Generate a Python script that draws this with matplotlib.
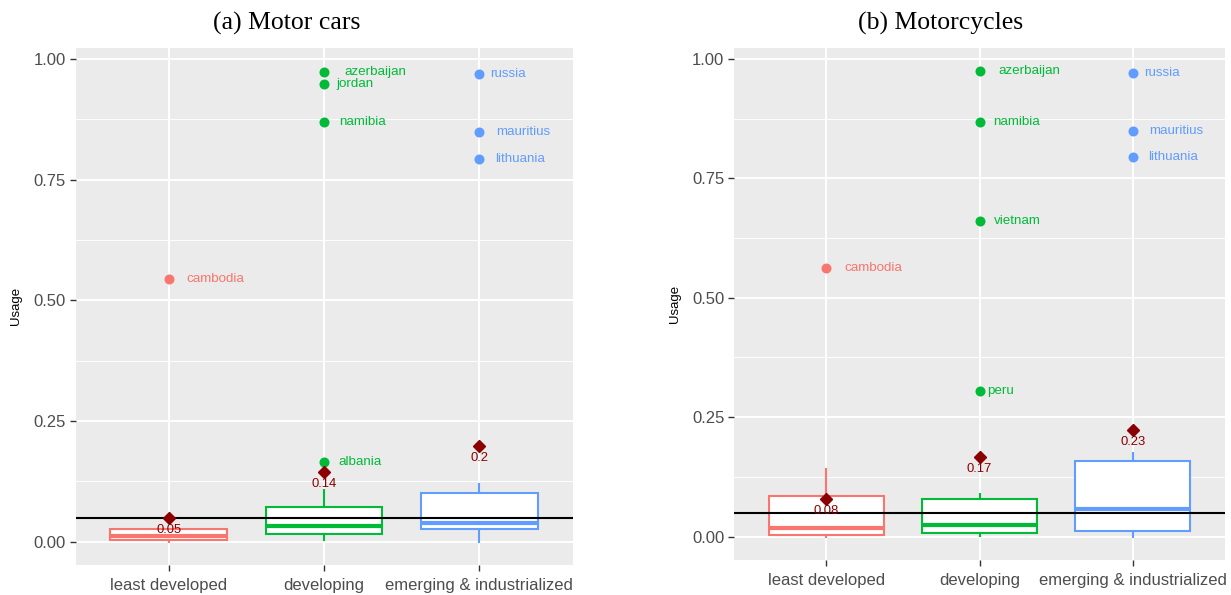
import matplotlib
matplotlib.use("Agg")
import matplotlib.pyplot as plt

plt.rcParams['font.family'] = ['Liberation Sans', 'DejaVu Sans']

# ---- datos ----
grupos = ["least developed", "developing", "emerging & industrialized"]
colores = ["#F8766D", "#00BA38", "#619CFF"]

# (a) Motor cars: q1, mediana, q3, bigote inf., bigote sup.
autos_q1 = [0.003, 0.017, 0.026]
autos_med = [0.012, 0.033, 0.039]
autos_q3 = [0.026, 0.072, 0.101]
autos_wlo = [0.000, 0.003, 0.000]
autos_whi = [0.026, 0.107, 0.119]
autos_media = [0.049, 0.144, 0.198]
autos_media_txt = ["0.05", "0.14", "0.2"]
autos_out_pais = ["cambodia", "azerbaijan", "jordan", "namibia", "albania",
                  "russia", "mauritius", "lithuania"]
autos_out_grupo = [0, 1, 1, 1, 1, 2, 2, 2]
autos_out_valor = [0.544, 0.973, 0.949, 0.870, 0.165, 0.970, 0.848, 0.792]

# (b) Motorcycles
motos_q1 = [0.004, 0.008, 0.012]
motos_med = [0.018, 0.025, 0.057]
motos_q3 = [0.086, 0.078, 0.159]
motos_wlo = [0.000, 0.002, 0.000]
motos_whi = [0.141, 0.090, 0.175]
motos_media = [0.078, 0.167, 0.224]
motos_media_txt = ["0.08", "0.17", "0.23"]
motos_out_pais = ["cambodia", "azerbaijan", "namibia", "vietnam", "peru",
                  "russia", "mauritius", "lithuania"]
motos_out_grupo = [0, 1, 1, 1, 1, 2, 2, 2]
motos_out_valor = [0.563, 0.974, 0.869, 0.661, 0.305, 0.970, 0.850, 0.794]

referencia = 0.05

# desplazamiento horizontal de cada etiqueta (px), como en el original
autos_dx = [18, 20, 12, 15, 14, 11, 17, 16]
motos_dx = [18, 19, 14, 14, 8, 11, 16, 15]

PX = 0.72  # puntos por pixel a dpi=100


def panel(ax, q1, med, q3, wlo, whi, media, media_txt,
          paises, grp, valores, dx):
    ax.set_facecolor("#EBEBEB")
    for s in ax.spines.values():
        s.set_visible(False)

    stats = [dict(q1=a, med=b, q3=c, whislo=d, whishi=e, label=g)
             for a, b, c, d, e, g in zip(q1, med, q3, wlo, whi, grupos)]
    pos = [1, 2, 3]
    bp = ax.bxp(stats, positions=pos, widths=0.75, showcaps=False,
                showfliers=False, patch_artist=True, zorder=3)
    for i, col in enumerate(colores):
        bp['boxes'][i].set(facecolor="white", edgecolor=col, linewidth=1.5)
        bp['medians'][i].set(color=col, linewidth=3.0, solid_capstyle='butt')
        for w in bp['whiskers'][2 * i:2 * i + 2]:
            w.set(color=col, linewidth=1.5)

    ax.axhline(referencia, color="black", linewidth=1.5, zorder=4)

    # valores atípicos con nombre del país
    for p, g, v, d in zip(paises, grp, valores, dx):
        ax.scatter(pos[g], v, s=52, color=colores[g], zorder=5, linewidths=0)
        ax.annotate(p, (pos[g], v), xytext=(d * PX, 0), textcoords="offset points",
                    ha="left", va="center", fontsize=9.6, color=colores[g], zorder=6)

    # media del grupo
    ax.plot(pos, media, linestyle="none", marker="D", markersize=6.5,
            color="#8B0000", zorder=6)
    for x, m, t in zip(pos, media, media_txt):
        ax.annotate(t, (x, m), xytext=(0, -12 * PX), textcoords="offset points",
                    ha="center", va="center", fontsize=9.4, color="#8B0000", zorder=7)

    ax.set_xlim(0.4, 3.6)
    ax.set_ylim(-0.048, 1.024)
    ax.set_xticks(pos)
    ax.set_xticklabels(grupos)
    ax.set_yticks([0, 0.25, 0.5, 0.75, 1.0])
    ax.set_yticklabels(["0.00", "0.25", "0.50", "0.75", "1.00"])
    ax.set_yticks([0.125, 0.375, 0.625, 0.875], minor=True)
    ax.grid(True, which="major", color="white", linewidth=1.4, zorder=0)
    ax.grid(True, which="minor", axis="y", color="white", linewidth=0.7, zorder=0)
    ax.set_axisbelow(True)
    ax.tick_params(which="major", length=4, width=1.0, color="#333333",
                   labelsize=12, labelcolor="#4D4D4D")
    ax.tick_params(axis="y", pad=3)
    ax.tick_params(axis="x", pad=5.5)
    ax.tick_params(which="minor", length=0)
    ax.set_ylabel("Usage", fontsize=9.5, labelpad=8)


W, H = 1231, 595
fig = plt.figure(figsize=(W / 100, H / 100), dpi=100)
ax1 = fig.add_axes([75.5 / W, (H - 565) / H, 497 / W, 517.5 / H])
ax2 = fig.add_axes([734 / W, (H - 559.5) / H, 491 / W, 512 / H])

panel(ax1, autos_q1, autos_med, autos_q3, autos_wlo, autos_whi, autos_media,
      autos_media_txt, autos_out_pais, autos_out_grupo, autos_out_valor, autos_dx)
panel(ax2, motos_q1, motos_med, motos_q3, motos_wlo, motos_whi, motos_media,
      motos_media_txt, motos_out_pais, motos_out_grupo, motos_out_valor, motos_dx)

fig.text(287 / W, 1 - 23 / H, "(a) Motor cars", family="Liberation Serif",
         fontsize=18.5, ha="center", va="center")
fig.text(941 / W, 1 - 23 / H, "(b) Motorcycles", family="Liberation Serif",
         fontsize=18.5, ha="center", va="center")

fig.savefig("out.png", dpi=100)
